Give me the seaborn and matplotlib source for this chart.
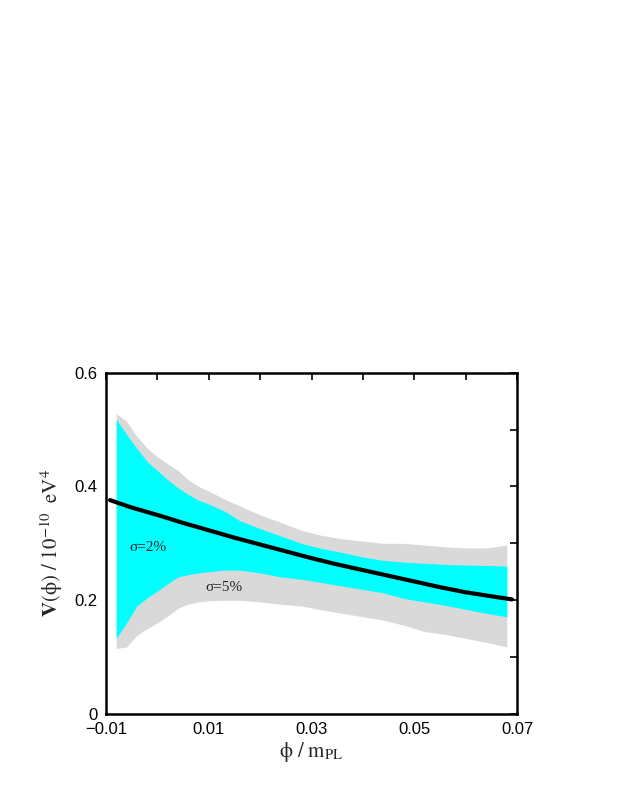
import numpy as np
import pandas as pd
import matplotlib
matplotlib.use('Agg')
import matplotlib.pyplot as plt
import seaborn as sns

# datos
phi_band = [-0.008, -0.006, -0.004, -0.002, 0.000, 0.002, 0.004, 0.006, 0.008,
            0.010, 0.013, 0.016, 0.020, 0.024, 0.028, 0.032, 0.036, 0.040,
            0.044, 0.048, 0.052, 0.056, 0.060, 0.064, 0.068]
gris_sup = [0.528, 0.515, 0.488, 0.468, 0.452, 0.440, 0.428, 0.412, 0.400,
            0.392, 0.378, 0.366, 0.350, 0.337, 0.323, 0.314, 0.308, 0.304,
            0.300, 0.300, 0.297, 0.294, 0.292, 0.292, 0.297]
cian_sup = [0.518, 0.492, 0.467, 0.444, 0.428, 0.412, 0.398, 0.386, 0.376,
            0.369, 0.357, 0.340, 0.326, 0.313, 0.300, 0.291, 0.284, 0.276,
            0.270, 0.267, 0.265, 0.263, 0.262, 0.261, 0.260]
cian_inf = [0.133, 0.160, 0.190, 0.204, 0.216, 0.229, 0.241, 0.245, 0.248,
            0.250, 0.253, 0.253, 0.248, 0.241, 0.237, 0.231, 0.225, 0.219,
            0.213, 0.203, 0.197, 0.191, 0.184, 0.177, 0.171]
gris_inf = [0.115, 0.118, 0.138, 0.150, 0.160, 0.172, 0.186, 0.193, 0.197,
            0.199, 0.200, 0.200, 0.197, 0.193, 0.190, 0.183, 0.177, 0.171,
            0.165, 0.156, 0.145, 0.140, 0.133, 0.126, 0.118]

phi_linea = [-0.0092, -0.005, 0.0, 0.005, 0.010, 0.015, 0.020, 0.025, 0.030,
             0.035, 0.040, 0.045, 0.050, 0.055, 0.060, 0.065, 0.069]
v_linea = [0.376, 0.363, 0.350, 0.336, 0.323, 0.310, 0.298, 0.286, 0.274,
           0.263, 0.253, 0.243, 0.233, 0.223, 0.214, 0.207, 0.2015]

xticks = [-0.01, 0.0, 0.01, 0.02, 0.03, 0.04, 0.05, 0.06, 0.07]
xtick_labels = ['\u22120.01', '', '0.01', '', '0.03', '', '0.05', '', '0.07']
yticks = [0.0, 0.1, 0.2, 0.3, 0.4, 0.5, 0.6]
ytick_labels = ['0', '', '0.2', '', '0.4', '', '0.6']

sns.set_style('white')
plt.rcParams['font.family'] = ['Liberation Sans', 'DejaVu Sans']
plt.rcParams['mathtext.fontset'] = 'stix'

fig = plt.figure(figsize=(6.23, 8.06), dpi=100)
ax = fig.add_axes([0.170, 0.1141, 0.660, 0.4235])

ax.fill_between(phi_band, gris_inf, gris_sup, color='#d9d9d9', linewidth=0)
ax.fill_between(phi_band, cian_inf, cian_sup, color='#00ffff', linewidth=0)

linea = pd.DataFrame({'phi': phi_linea, 'V': v_linea})
sns.lineplot(data=linea, x='phi', y='V', ax=ax, color='black', linewidth=3, sort=False)

ax.text(-0.0018, 0.292, '\u03c3=2%', family='Liberation Serif', fontsize=11,
        ha='center', va='center')
ax.text(0.0129, 0.223, '\u03c3=5%', family='Liberation Serif', fontsize=11,
        ha='center', va='center')

ax.set_xlim(-0.01, 0.07)
ax.set_ylim(0, 0.6)
ax.set_xticks(xticks)
ax.set_xticklabels(xtick_labels)
ax.set_yticks(yticks)
ax.set_yticklabels(ytick_labels)
ax.tick_params(direction='in', length=5, width=1.2, top=True, right=True,
               labelsize=12, pad=6, colors='black')
for s in ax.spines.values():
    s.set_linewidth(1.8)
    s.set_color('black')

ax.set_xlabel('$\\mathrm{ϕ}\\ /\\ \\mathrm{m}_{\\mathrm{PL}}$', fontsize=15, labelpad=2)
ax.set_ylabel('$\\mathbf{V}\\mathrm{(ϕ)}\\ /\\ 10^{-10}\\ \\ \\mathrm{eV}^{4}$', fontsize=15, labelpad=7)

plt.savefig('out.png', dpi=100)
